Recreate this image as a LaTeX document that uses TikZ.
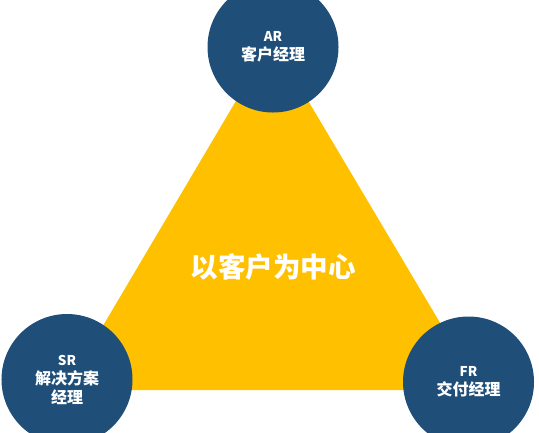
\documentclass[tikz,border=0pt]{standalone}
\usepackage{fontspec}
\setmainfont{Carlito}
\newfontfamily\cjk{Noto Sans CJK SC}
\usepackage{xcolor}
\usepackage{tikz}
\definecolor{roleblue}{HTML}{1F4E79}
\definecolor{coreyellow}{HTML}{FFC000}

\begin{document}
\begin{tikzpicture}[x=1bp,y=-1bp,
    role/.style={circle, fill=roleblue, minimum size=131bp, inner sep=0pt,
      text=white, align=center, font=\cjk\bfseries\fontsize{16bp}{19bp}\selectfont}]
      \useasboundingbox (0,0) rectangle (539,432);
      \clip (0,0) rectangle (539,432);

      % Triangle corners
      \coordinate (apex) at (272,40);
      \coordinate (left) at (65,390);
      \coordinate (right) at (480,390);
      \fill[coreyellow] (apex) -- (left) -- (right) -- cycle;

      % Centre label
      \node (core) at (273,267) [text=white, font=\cjk\bfseries\fontsize{27.5bp}{30bp}\selectfont] {以客户为中心};

      % Roles at the corners
      \node[role] (ar) at (273,47) {{\fontsize{13.5bp}{19bp}\selectfont AR}\\客户经理};
      \node[role] (sr) at (67,379.5) {{\fontsize{13.5bp}{19bp}\selectfont SR}\\解决方案\\经理};
      \node[role] (fr) at (468.5,382) {{\fontsize{13.5bp}{19bp}\selectfont FR}\\交付经理};
    \end{tikzpicture}
\end{document}
